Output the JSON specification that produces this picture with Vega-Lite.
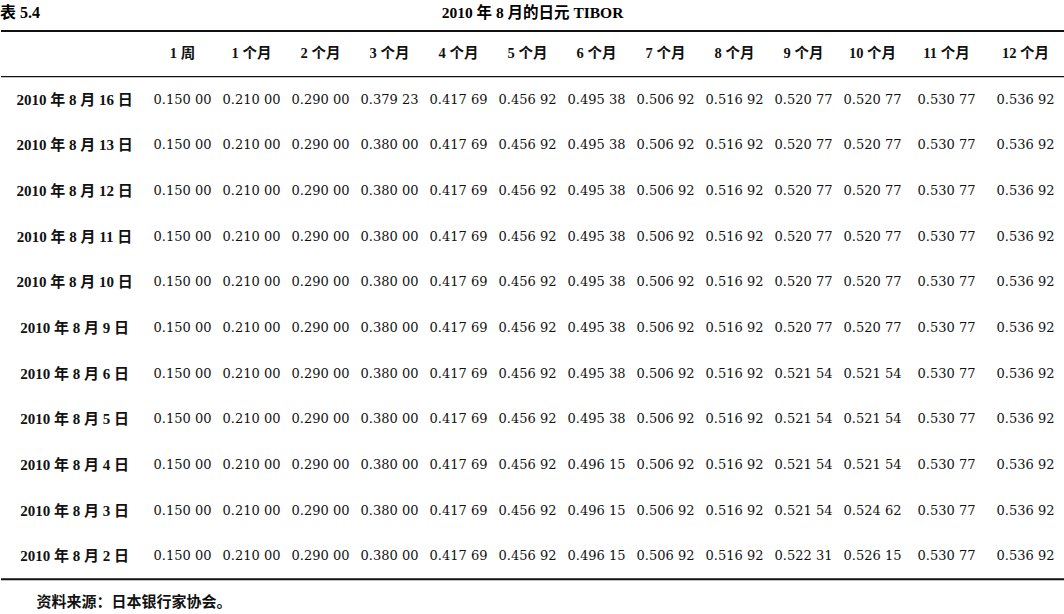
{
  "$schema": "https://vega.github.io/schema/vega-lite/v6.json",
  "padding": {"top": 5, "left": 0, "right": 0, "bottom": 0},
  "spacing": 0,
  "bounds": "flush",
  "datasets": {
    "heads": [
      {"row": "header", "tenor": "1 周"}, {"row": "header", "tenor": "1 个月"}, {"row": "header", "tenor": "2 个月"},
      {"row": "header", "tenor": "3 个月"}, {"row": "header", "tenor": "4 个月"}, {"row": "header", "tenor": "5 个月"},
      {"row": "header", "tenor": "6 个月"}, {"row": "header", "tenor": "7 个月"}, {"row": "header", "tenor": "8 个月"},
      {"row": "header", "tenor": "9 个月"}, {"row": "header", "tenor": "10 个月"}, {"row": "header", "tenor": "11 个月"},
      {"row": "header", "tenor": "12 个月"}
    ],
    "notes": [{"row": "footer", "label": "资料来源：日本银行家协会。"}],
    "rates": [
      {"row": "2010 年 8 月 16 日", "tenor": "1 周", "rate": 0.15}, {"row": "2010 年 8 月 16 日", "tenor": "1 个月", "rate": 0.21}, {"row": "2010 年 8 月 16 日", "tenor": "2 个月", "rate": 0.29}, {"row": "2010 年 8 月 16 日", "tenor": "3 个月", "rate": 0.37923}, {"row": "2010 年 8 月 16 日", "tenor": "4 个月", "rate": 0.41769}, {"row": "2010 年 8 月 16 日", "tenor": "5 个月", "rate": 0.45692}, {"row": "2010 年 8 月 16 日", "tenor": "6 个月", "rate": 0.49538}, {"row": "2010 年 8 月 16 日", "tenor": "7 个月", "rate": 0.50692}, {"row": "2010 年 8 月 16 日", "tenor": "8 个月", "rate": 0.51692}, {"row": "2010 年 8 月 16 日", "tenor": "9 个月", "rate": 0.52077}, {"row": "2010 年 8 月 16 日", "tenor": "10 个月", "rate": 0.52077}, {"row": "2010 年 8 月 16 日", "tenor": "11 个月", "rate": 0.53077}, {"row": "2010 年 8 月 16 日", "tenor": "12 个月", "rate": 0.53692},
      {"row": "2010 年 8 月 13 日", "tenor": "1 周", "rate": 0.15}, {"row": "2010 年 8 月 13 日", "tenor": "1 个月", "rate": 0.21}, {"row": "2010 年 8 月 13 日", "tenor": "2 个月", "rate": 0.29}, {"row": "2010 年 8 月 13 日", "tenor": "3 个月", "rate": 0.38}, {"row": "2010 年 8 月 13 日", "tenor": "4 个月", "rate": 0.41769}, {"row": "2010 年 8 月 13 日", "tenor": "5 个月", "rate": 0.45692}, {"row": "2010 年 8 月 13 日", "tenor": "6 个月", "rate": 0.49538}, {"row": "2010 年 8 月 13 日", "tenor": "7 个月", "rate": 0.50692}, {"row": "2010 年 8 月 13 日", "tenor": "8 个月", "rate": 0.51692}, {"row": "2010 年 8 月 13 日", "tenor": "9 个月", "rate": 0.52077}, {"row": "2010 年 8 月 13 日", "tenor": "10 个月", "rate": 0.52077}, {"row": "2010 年 8 月 13 日", "tenor": "11 个月", "rate": 0.53077}, {"row": "2010 年 8 月 13 日", "tenor": "12 个月", "rate": 0.53692},
      {"row": "2010 年 8 月 12 日", "tenor": "1 周", "rate": 0.15}, {"row": "2010 年 8 月 12 日", "tenor": "1 个月", "rate": 0.21}, {"row": "2010 年 8 月 12 日", "tenor": "2 个月", "rate": 0.29}, {"row": "2010 年 8 月 12 日", "tenor": "3 个月", "rate": 0.38}, {"row": "2010 年 8 月 12 日", "tenor": "4 个月", "rate": 0.41769}, {"row": "2010 年 8 月 12 日", "tenor": "5 个月", "rate": 0.45692}, {"row": "2010 年 8 月 12 日", "tenor": "6 个月", "rate": 0.49538}, {"row": "2010 年 8 月 12 日", "tenor": "7 个月", "rate": 0.50692}, {"row": "2010 年 8 月 12 日", "tenor": "8 个月", "rate": 0.51692}, {"row": "2010 年 8 月 12 日", "tenor": "9 个月", "rate": 0.52077}, {"row": "2010 年 8 月 12 日", "tenor": "10 个月", "rate": 0.52077}, {"row": "2010 年 8 月 12 日", "tenor": "11 个月", "rate": 0.53077}, {"row": "2010 年 8 月 12 日", "tenor": "12 个月", "rate": 0.53692},
      {"row": "2010 年 8 月 11 日", "tenor": "1 周", "rate": 0.15}, {"row": "2010 年 8 月 11 日", "tenor": "1 个月", "rate": 0.21}, {"row": "2010 年 8 月 11 日", "tenor": "2 个月", "rate": 0.29}, {"row": "2010 年 8 月 11 日", "tenor": "3 个月", "rate": 0.38}, {"row": "2010 年 8 月 11 日", "tenor": "4 个月", "rate": 0.41769}, {"row": "2010 年 8 月 11 日", "tenor": "5 个月", "rate": 0.45692}, {"row": "2010 年 8 月 11 日", "tenor": "6 个月", "rate": 0.49538}, {"row": "2010 年 8 月 11 日", "tenor": "7 个月", "rate": 0.50692}, {"row": "2010 年 8 月 11 日", "tenor": "8 个月", "rate": 0.51692}, {"row": "2010 年 8 月 11 日", "tenor": "9 个月", "rate": 0.52077}, {"row": "2010 年 8 月 11 日", "tenor": "10 个月", "rate": 0.52077}, {"row": "2010 年 8 月 11 日", "tenor": "11 个月", "rate": 0.53077}, {"row": "2010 年 8 月 11 日", "tenor": "12 个月", "rate": 0.53692},
      {"row": "2010 年 8 月 10 日", "tenor": "1 周", "rate": 0.15}, {"row": "2010 年 8 月 10 日", "tenor": "1 个月", "rate": 0.21}, {"row": "2010 年 8 月 10 日", "tenor": "2 个月", "rate": 0.29}, {"row": "2010 年 8 月 10 日", "tenor": "3 个月", "rate": 0.38}, {"row": "2010 年 8 月 10 日", "tenor": "4 个月", "rate": 0.41769}, {"row": "2010 年 8 月 10 日", "tenor": "5 个月", "rate": 0.45692}, {"row": "2010 年 8 月 10 日", "tenor": "6 个月", "rate": 0.49538}, {"row": "2010 年 8 月 10 日", "tenor": "7 个月", "rate": 0.50692}, {"row": "2010 年 8 月 10 日", "tenor": "8 个月", "rate": 0.51692}, {"row": "2010 年 8 月 10 日", "tenor": "9 个月", "rate": 0.52077}, {"row": "2010 年 8 月 10 日", "tenor": "10 个月", "rate": 0.52077}, {"row": "2010 年 8 月 10 日", "tenor": "11 个月", "rate": 0.53077}, {"row": "2010 年 8 月 10 日", "tenor": "12 个月", "rate": 0.53692},
      {"row": "2010 年 8 月 9 日", "tenor": "1 周", "rate": 0.15}, {"row": "2010 年 8 月 9 日", "tenor": "1 个月", "rate": 0.21}, {"row": "2010 年 8 月 9 日", "tenor": "2 个月", "rate": 0.29}, {"row": "2010 年 8 月 9 日", "tenor": "3 个月", "rate": 0.38}, {"row": "2010 年 8 月 9 日", "tenor": "4 个月", "rate": 0.41769}, {"row": "2010 年 8 月 9 日", "tenor": "5 个月", "rate": 0.45692}, {"row": "2010 年 8 月 9 日", "tenor": "6 个月", "rate": 0.49538}, {"row": "2010 年 8 月 9 日", "tenor": "7 个月", "rate": 0.50692}, {"row": "2010 年 8 月 9 日", "tenor": "8 个月", "rate": 0.51692}, {"row": "2010 年 8 月 9 日", "tenor": "9 个月", "rate": 0.52077}, {"row": "2010 年 8 月 9 日", "tenor": "10 个月", "rate": 0.52077}, {"row": "2010 年 8 月 9 日", "tenor": "11 个月", "rate": 0.53077}, {"row": "2010 年 8 月 9 日", "tenor": "12 个月", "rate": 0.53692},
      {"row": "2010 年 8 月 6 日", "tenor": "1 周", "rate": 0.15}, {"row": "2010 年 8 月 6 日", "tenor": "1 个月", "rate": 0.21}, {"row": "2010 年 8 月 6 日", "tenor": "2 个月", "rate": 0.29}, {"row": "2010 年 8 月 6 日", "tenor": "3 个月", "rate": 0.38}, {"row": "2010 年 8 月 6 日", "tenor": "4 个月", "rate": 0.41769}, {"row": "2010 年 8 月 6 日", "tenor": "5 个月", "rate": 0.45692}, {"row": "2010 年 8 月 6 日", "tenor": "6 个月", "rate": 0.49538}, {"row": "2010 年 8 月 6 日", "tenor": "7 个月", "rate": 0.50692}, {"row": "2010 年 8 月 6 日", "tenor": "8 个月", "rate": 0.51692}, {"row": "2010 年 8 月 6 日", "tenor": "9 个月", "rate": 0.52154}, {"row": "2010 年 8 月 6 日", "tenor": "10 个月", "rate": 0.52154}, {"row": "2010 年 8 月 6 日", "tenor": "11 个月", "rate": 0.53077}, {"row": "2010 年 8 月 6 日", "tenor": "12 个月", "rate": 0.53692},
      {"row": "2010 年 8 月 5 日", "tenor": "1 周", "rate": 0.15}, {"row": "2010 年 8 月 5 日", "tenor": "1 个月", "rate": 0.21}, {"row": "2010 年 8 月 5 日", "tenor": "2 个月", "rate": 0.29}, {"row": "2010 年 8 月 5 日", "tenor": "3 个月", "rate": 0.38}, {"row": "2010 年 8 月 5 日", "tenor": "4 个月", "rate": 0.41769}, {"row": "2010 年 8 月 5 日", "tenor": "5 个月", "rate": 0.45692}, {"row": "2010 年 8 月 5 日", "tenor": "6 个月", "rate": 0.49538}, {"row": "2010 年 8 月 5 日", "tenor": "7 个月", "rate": 0.50692}, {"row": "2010 年 8 月 5 日", "tenor": "8 个月", "rate": 0.51692}, {"row": "2010 年 8 月 5 日", "tenor": "9 个月", "rate": 0.52154}, {"row": "2010 年 8 月 5 日", "tenor": "10 个月", "rate": 0.52154}, {"row": "2010 年 8 月 5 日", "tenor": "11 个月", "rate": 0.53077}, {"row": "2010 年 8 月 5 日", "tenor": "12 个月", "rate": 0.53692},
      {"row": "2010 年 8 月 4 日", "tenor": "1 周", "rate": 0.15}, {"row": "2010 年 8 月 4 日", "tenor": "1 个月", "rate": 0.21}, {"row": "2010 年 8 月 4 日", "tenor": "2 个月", "rate": 0.29}, {"row": "2010 年 8 月 4 日", "tenor": "3 个月", "rate": 0.38}, {"row": "2010 年 8 月 4 日", "tenor": "4 个月", "rate": 0.41769}, {"row": "2010 年 8 月 4 日", "tenor": "5 个月", "rate": 0.45692}, {"row": "2010 年 8 月 4 日", "tenor": "6 个月", "rate": 0.49615}, {"row": "2010 年 8 月 4 日", "tenor": "7 个月", "rate": 0.50692}, {"row": "2010 年 8 月 4 日", "tenor": "8 个月", "rate": 0.51692}, {"row": "2010 年 8 月 4 日", "tenor": "9 个月", "rate": 0.52154}, {"row": "2010 年 8 月 4 日", "tenor": "10 个月", "rate": 0.52154}, {"row": "2010 年 8 月 4 日", "tenor": "11 个月", "rate": 0.53077}, {"row": "2010 年 8 月 4 日", "tenor": "12 个月", "rate": 0.53692},
      {"row": "2010 年 8 月 3 日", "tenor": "1 周", "rate": 0.15}, {"row": "2010 年 8 月 3 日", "tenor": "1 个月", "rate": 0.21}, {"row": "2010 年 8 月 3 日", "tenor": "2 个月", "rate": 0.29}, {"row": "2010 年 8 月 3 日", "tenor": "3 个月", "rate": 0.38}, {"row": "2010 年 8 月 3 日", "tenor": "4 个月", "rate": 0.41769}, {"row": "2010 年 8 月 3 日", "tenor": "5 个月", "rate": 0.45692}, {"row": "2010 年 8 月 3 日", "tenor": "6 个月", "rate": 0.49615}, {"row": "2010 年 8 月 3 日", "tenor": "7 个月", "rate": 0.50692}, {"row": "2010 年 8 月 3 日", "tenor": "8 个月", "rate": 0.51692}, {"row": "2010 年 8 月 3 日", "tenor": "9 个月", "rate": 0.52154}, {"row": "2010 年 8 月 3 日", "tenor": "10 个月", "rate": 0.52462}, {"row": "2010 年 8 月 3 日", "tenor": "11 个月", "rate": 0.53077}, {"row": "2010 年 8 月 3 日", "tenor": "12 个月", "rate": 0.53692},
      {"row": "2010 年 8 月 2 日", "tenor": "1 周", "rate": 0.15}, {"row": "2010 年 8 月 2 日", "tenor": "1 个月", "rate": 0.21}, {"row": "2010 年 8 月 2 日", "tenor": "2 个月", "rate": 0.29}, {"row": "2010 年 8 月 2 日", "tenor": "3 个月", "rate": 0.38}, {"row": "2010 年 8 月 2 日", "tenor": "4 个月", "rate": 0.41769}, {"row": "2010 年 8 月 2 日", "tenor": "5 个月", "rate": 0.45692}, {"row": "2010 年 8 月 2 日", "tenor": "6 个月", "rate": 0.49615}, {"row": "2010 年 8 月 2 日", "tenor": "7 个月", "rate": 0.50692}, {"row": "2010 年 8 月 2 日", "tenor": "8 个月", "rate": 0.51692}, {"row": "2010 年 8 月 2 日", "tenor": "9 个月", "rate": 0.52231}, {"row": "2010 年 8 月 2 日", "tenor": "10 个月", "rate": 0.52615}, {"row": "2010 年 8 月 2 日", "tenor": "11 个月", "rate": 0.53077}, {"row": "2010 年 8 月 2 日", "tenor": "12 个月", "rate": 0.53692}
    ]
  },
  "hconcat": [
    {
      "width": 147,
      "height": 594,
      "title": {"text": "表 5.4", "anchor": "start", "fontSize": 16},
      "encoding": {
        "y": {
          "field": "row", "type": "nominal", "axis": null,
          "scale": {"type": "band", "paddingInner": 0, "paddingOuter": 0, "domain": ["header", "2010 年 8 月 16 日", "2010 年 8 月 13 日", "2010 年 8 月 12 日", "2010 年 8 月 11 日", "2010 年 8 月 10 日", "2010 年 8 月 9 日", "2010 年 8 月 6 日", "2010 年 8 月 5 日", "2010 年 8 月 4 日", "2010 年 8 月 3 日", "2010 年 8 月 2 日", "footer"]}
        }
      },
      "layer": [
        {
          "data": {"name": "rates"},
          "transform": [{"filter": "datum.tenor === '1 周'"}],
          "mark": {"type": "text", "fontWeight": "bold", "fontSize": 15},
          "encoding": {"text": {"field": "row"}}
        },
        {
          "data": {"name": "notes"},
          "mark": {"type": "text", "align": "left", "dx": -38, "fontWeight": "bold", "fontSize": 15},
          "encoding": {"text": {"field": "label"}}
        },
        {
          "data": {"values": [{}]},
          "mark": {"type": "rule", "strokeWidth": 2},
          "encoding": {"y": {"datum": "header", "type": "nominal", "bandPosition": 0}}
        },
        {
          "data": {"values": [{}]},
          "mark": {"type": "rule", "strokeWidth": 1.3},
          "encoding": {"y": {"datum": "header", "type": "nominal", "bandPosition": 1}}
        },
        {
          "data": {"values": [{}]},
          "mark": {"type": "rule", "strokeWidth": 2},
          "encoding": {"y": {"datum": "2010 年 8 月 2 日", "type": "nominal", "bandPosition": 1}}
        }
      ]
    },
    {
      "width": 759,
      "height": 594,
      "title": {"text": "2010 年 8 月的日元 TIBOR", "anchor": "middle", "dx": 5},
      "encoding": {
        "y": {
          "field": "row", "type": "nominal", "axis": null,
          "scale": {"type": "band", "paddingInner": 0, "paddingOuter": 0, "domain": ["header", "2010 年 8 月 16 日", "2010 年 8 月 13 日", "2010 年 8 月 12 日", "2010 年 8 月 11 日", "2010 年 8 月 10 日", "2010 年 8 月 9 日", "2010 年 8 月 6 日", "2010 年 8 月 5 日", "2010 年 8 月 4 日", "2010 年 8 月 3 日", "2010 年 8 月 2 日", "footer"]}
        }
      },
      "layer": [
        {
          "data": {"name": "heads"},
          "transform": [{"filter": {"field": "tenor", "oneOf": ["1 周", "1 个月", "2 个月", "3 个月", "4 个月", "5 个月", "6 个月", "7 个月", "8 个月", "9 个月", "10 个月"]}}],
          "mark": {"type": "text", "fontWeight": "bold", "fontSize": 14.5},
          "encoding": {
            "x": {"field": "tenor", "type": "nominal", "axis": null, "scale": {"type": "band", "paddingInner": 0, "paddingOuter": 0, "domain": ["1 周", "1 个月", "2 个月", "3 个月", "4 个月", "5 个月", "6 个月", "7 个月", "8 个月", "9 个月", "10 个月"]}},
            "text": {"field": "tenor"}
          }
        },
        {
          "data": {"name": "rates"},
          "transform": [
            {"filter": {"field": "tenor", "oneOf": ["1 周", "1 个月", "2 个月", "3 个月", "4 个月", "5 个月", "6 个月", "7 个月", "8 个月", "9 个月", "10 个月"]}},
            {"calculate": "slice(format(datum.rate, '.5f'), 0, 5) + ' ' + slice(format(datum.rate, '.5f'), 5)", "as": "label"}
          ],
          "mark": {"type": "text", "font": "'DejaVu Serif'", "fontSize": 13},
          "encoding": {
            "x": {"field": "tenor", "type": "nominal", "axis": null, "scale": {"type": "band", "paddingInner": 0, "paddingOuter": 0, "domain": ["1 周", "1 个月", "2 个月", "3 个月", "4 个月", "5 个月", "6 个月", "7 个月", "8 个月", "9 个月", "10 个月"]}},
            "text": {"field": "label"}
          }
        },
        {
          "data": {"values": [{}]},
          "mark": {"type": "rule", "strokeWidth": 2},
          "encoding": {"y": {"datum": "header", "type": "nominal", "bandPosition": 0}}
        },
        {
          "data": {"values": [{}]},
          "mark": {"type": "rule", "strokeWidth": 1.3},
          "encoding": {"y": {"datum": "header", "type": "nominal", "bandPosition": 1}}
        },
        {
          "data": {"values": [{}]},
          "mark": {"type": "rule", "strokeWidth": 2},
          "encoding": {"y": {"datum": "2010 年 8 月 2 日", "type": "nominal", "bandPosition": 1}}
        }
      ]
    },
    {
      "width": 158,
      "height": 594,
      "encoding": {
        "y": {
          "field": "row", "type": "nominal", "axis": null,
          "scale": {"type": "band", "paddingInner": 0, "paddingOuter": 0, "domain": ["header", "2010 年 8 月 16 日", "2010 年 8 月 13 日", "2010 年 8 月 12 日", "2010 年 8 月 11 日", "2010 年 8 月 10 日", "2010 年 8 月 9 日", "2010 年 8 月 6 日", "2010 年 8 月 5 日", "2010 年 8 月 4 日", "2010 年 8 月 3 日", "2010 年 8 月 2 日", "footer"]}
        }
      },
      "layer": [
        {
          "data": {"name": "heads"},
          "transform": [{"filter": {"field": "tenor", "oneOf": ["11 个月", "12 个月"]}}],
          "mark": {"type": "text", "fontWeight": "bold", "fontSize": 14.5},
          "encoding": {
            "x": {"field": "tenor", "type": "nominal", "axis": null, "scale": {"type": "band", "paddingInner": 0, "paddingOuter": 0, "domain": ["11 个月", "12 个月"]}},
            "text": {"field": "tenor"}
          }
        },
        {
          "data": {"name": "rates"},
          "transform": [
            {"filter": {"field": "tenor", "oneOf": ["11 个月", "12 个月"]}},
            {"calculate": "slice(format(datum.rate, '.5f'), 0, 5) + ' ' + slice(format(datum.rate, '.5f'), 5)", "as": "label"}
          ],
          "mark": {"type": "text", "font": "'DejaVu Serif'", "fontSize": 13},
          "encoding": {
            "x": {"field": "tenor", "type": "nominal", "axis": null, "scale": {"type": "band", "paddingInner": 0, "paddingOuter": 0, "domain": ["11 个月", "12 个月"]}},
            "text": {"field": "label"}
          }
        },
        {
          "data": {"values": [{}]},
          "mark": {"type": "rule", "strokeWidth": 2},
          "encoding": {"y": {"datum": "header", "type": "nominal", "bandPosition": 0}}
        },
        {
          "data": {"values": [{}]},
          "mark": {"type": "rule", "strokeWidth": 1.3},
          "encoding": {"y": {"datum": "header", "type": "nominal", "bandPosition": 1}}
        },
        {
          "data": {"values": [{}]},
          "mark": {"type": "rule", "strokeWidth": 2},
          "encoding": {"y": {"datum": "2010 年 8 月 2 日", "type": "nominal", "bandPosition": 1}}
        }
      ]
    }
  ],
  "config": {
    "background": "#ffffff",
    "view": {"stroke": null},
    "font": "'Liberation Serif', 'Noto Sans CJK SC'",
    "title": {"fontSize": 15.5, "fontWeight": "bold", "color": "#000000", "offset": 9},
    "text": {"fontSize": 14, "color": "#111111"},
    "rule": {"color": "#111111"}
  }
}
